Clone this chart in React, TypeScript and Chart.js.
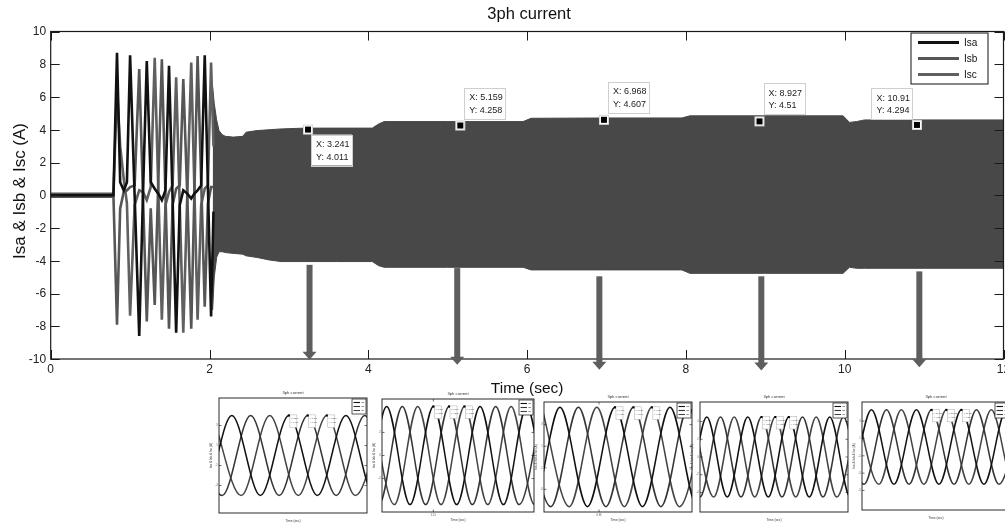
import React, { useEffect, useRef } from "react";
import { Chart, registerables } from "chart.js";

Chart.register(...registerables);

const FONT = '"Liberation Sans", Arial, Helvetica, sans-serif';

// ---------- main chart data ----------
const SERIES = ["Isa", "Isb", "Isc"];
const X_TICKS = [0, 2, 4, 6, 8, 10, 12];
const Y_TICKS = [-10, -8, -6, -4, -2, 0, 2, 4, 6, 8, 10];

// start-up transient (time in s)
const TRANS_T = [0, 0.79, 0.835, 0.875, 0.92, 0.96, 1.0, 1.057, 1.115, 1.162, 1.21, 1.26, 1.31, 1.355, 1.4, 1.445, 1.49, 1.535, 1.58, 1.625, 1.67, 1.72, 1.77, 1.81, 1.85, 1.895, 1.94, 1.98, 2.02, 2.05];
const TRANS_A = [0, 0, 8.7, 0.8, 0.3, 0.8, 8.55, 0, -8.6, 0, 8.2, 0.8, 0.4, 0.1, -0.3, 0.3, 7.9, -0.2, -8.4, -0.6, 0.3, 0.1, -0.2, 0.1, 0.3, 0.6, 8.55, 0.5, -7.4, -1.0];
const TRANS_B = [0, 0, -7.9, -0.8, 0.2, 0.3, 0.5, 0.6, 7.7, 0, -7.7, -0.8, -6.7, 0.8, 8.3, 0.1, -8.15, -0.6, 0.4, 0.6, 7.1, 0, -8.15, 0.2, 8.5, 0.9, -6.8, -0.5, 0.5, 0.5];
const TRANS_C = [0, 0, 6.5, 3.0, 1.0, -0.5, -7.35, -0.6, 0.3, 0.2, -0.3, 0.5, 8.4, 0.4, -7.6, -0.6, 0.2, 0.6, 7.2, -0.6, -8.4, 0, 8.1, 0.3, -7.6, -0.6, 0.4, 0.6, 8.1, 3.0];

// steady-state envelope of the three dense 50 Hz currents
const ENV_T = [2.04, 2.06, 2.09, 2.12, 2.16, 2.2, 2.3, 2.42, 2.46, 2.6, 2.75, 2.9, 3.2, 3.6, 4.05, 4.13, 4.2, 4.4, 5.0, 5.95, 6.05, 7.0, 7.95, 8.05, 9.0, 9.98, 10.06, 10.15, 10.25, 11.0, 12.0];
const ENV_UPPER = [6.6, 5.6, 4.6, 3.95, 3.7, 3.6, 3.55, 3.6, 3.85, 3.95, 4.0, 4.05, 4.1, 4.1, 4.1, 4.35, 4.5, 4.5, 4.5, 4.5, 4.7, 4.72, 4.72, 4.85, 4.85, 4.85, 4.45, 4.5, 4.6, 4.6, 4.6];
const ENV_LOWER = [-7.0, -5.0, -3.8, -3.45, -3.45, -3.5, -3.55, -3.6, -3.7, -3.8, -3.95, -4.05, -4.05, -4.05, -4.05, -4.3, -4.4, -4.4, -4.4, -4.4, -4.56, -4.56, -4.56, -4.77, -4.77, -4.77, -4.4, -4.46, -4.46, -4.46, -4.46];

// data tips
const TIP_X = [3.241, 5.159, 6.968, 8.927, 10.91];
const TIP_Y = [4.011, 4.258, 4.607, 4.51, 4.294];

// arrows (time, start value, tip value)
const ARROW_X = [3.26, 5.12, 6.91, 8.95, 10.94];
const ARROW_TOP = [-4.25, -4.45, -4.95, -4.95, -4.65];
const ARROW_TIP = [-10.05, -10.35, -10.65, -10.7, -10.5];

// ---------- inset (zoomed) data ----------
const INSET1_PEAKS = [3.1995, 3.2061, 3.2128, 3.2195, 3.2261, 3.2328, 3.2395, 3.2461, 3.2528, 3.2595, 3.2661, 3.2728, 3.2795, 3.2861];
const INSET1_TROUGHS = [3.2028, 3.2095, 3.2161, 3.2228, 3.2295, 3.2361, 3.2428, 3.2495, 3.2561, 3.2628, 3.2695, 3.2761, 3.2828];
const INSET2_PEAKS = [5.11, 5.1167, 5.1233, 5.13, 5.1367, 5.1433, 5.15, 5.1567, 5.1633, 5.17, 5.1767, 5.1833, 5.19, 5.1967, 5.2033, 5.21];
const INSET2_TROUGHS = [5.1133, 5.12, 5.1267, 5.1333, 5.14, 5.1467, 5.1533, 5.16, 5.1667, 5.1733, 5.18, 5.1867, 5.1933, 5.2, 5.2067];
const INSET3_PEAKS = [6.9258, 6.9325, 6.9392, 6.9458, 6.9525, 6.9592, 6.9658, 6.9725, 6.9792, 6.9858, 6.9925, 6.9992, 7.0058, 7.0125];
const INSET3_TROUGHS = [6.9292, 6.9358, 6.9425, 6.9492, 6.9558, 6.9625, 6.9692, 6.9758, 6.9825, 6.9892, 6.9958, 7.0025, 7.0092];
const INSET4_PEAKS = [8.8733, 8.88, 8.8867, 8.8933, 8.9, 8.9067, 8.9133, 8.92, 8.9267, 8.9333, 8.94, 8.9467, 8.9533, 8.96, 8.9667, 8.9733, 8.98];
const INSET4_TROUGHS = [8.8767, 8.8833, 8.89, 8.8967, 8.9033, 8.91, 8.9167, 8.9233, 8.93, 8.9367, 8.9433, 8.95, 8.9567, 8.9633, 8.97, 8.9767];
const INSET5_PEAKS = [10.8642, 10.8709, 10.8775, 10.8842, 10.8909, 10.8975, 10.9042, 10.9109, 10.9175, 10.9242, 10.9309, 10.9375, 10.9442, 10.9509, 10.9575, 10.9642];
const INSET5_TROUGHS = [10.8675, 10.8742, 10.8809, 10.8875, 10.8942, 10.9009, 10.9075, 10.9142, 10.9209, 10.9275, 10.9342, 10.9409, 10.9475, 10.9542, 10.9609];

const INSET_AMPS = [4.011, 4.258, 4.607, 4.51, 4.294];
const INSET_X_MIN = [3.215, 5.128, 6.94, 8.89, 10.88];
const INSET_X_MAX = [3.2669, 5.1931, 6.9938, 8.9622, 10.9458];
const INSET_Y_MIN = [-5.75, -4.9, -5.1, -6.2, -7.25];
const INSET_Y_MAX = [5.75, 4.9, 5.1, 6.2, 5.2];
const INSET1_TIPS = [3.2395, 3.2461, 3.2528];
const INSET2_TIPS = [5.15, 5.1567, 5.1633];
const INSET3_TIPS = [6.9658, 6.9725, 6.9792];
const INSET4_TIPS = [8.92, 8.9267, 8.9333];
const INSET5_TIPS = [10.9109, 10.9175, 10.9242];

const INSET_PEAKS = [INSET1_PEAKS, INSET2_PEAKS, INSET3_PEAKS, INSET4_PEAKS, INSET5_PEAKS];
const INSET_TROUGHS = [INSET1_TROUGHS, INSET2_TROUGHS, INSET3_TROUGHS, INSET4_TROUGHS, INSET5_TROUGHS];
const INSET_TIPS = [INSET1_TIPS, INSET2_TIPS, INSET3_TIPS, INSET4_TIPS, INSET5_TIPS];

// ---------- layout / style ----------
const W = 1005;
const H = 523;
const MAIN_PAD = { left: 50.7, right: 1.5, top: 31.5, bottom: 164 };
const SERIES_COLORS = ["#111111", "#565656", "#606060"];
const INSET_COLORS = ["#111111", "#353535", "#444444"];
const BAND_COLOR = "#484848";
const ARROW_COLOR = "#5e5e5e";
const TIP_SIDE = ["br", "tr", "tr", "tr", "tl"];
const INSET_BOXES = [
  { l: 219, t: 398, w: 148, h: 115 },
  { l: 382, t: 399, w: 152, h: 113 },
  { l: 544, t: 402, w: 148, h: 110 },
  { l: 700, t: 402, w: 148, h: 110 },
  { l: 862, t: 402, w: 148, h: 108 },
];
const INSET_PAD = { l: 16, r: 3, t: 10, b: 14 };

type Pt = { x: number; y: number };
const toPts = (xs: number[], ys: number[]): Pt[] => xs.map((x, i) => ({ x, y: ys[i] }));

// split sorted extremes into the three phases (peaks cycle a,b,c; each trough sits between two peaks of its phase)
function splitPhases(peaks: number[], troughs: number[], amp: number): Pt[][] {
  const out: Pt[][] = [];
  for (let p = 0; p < 3; p++) {
    const pk = peaks.filter((_, i) => i % 3 === p);
    const pts: Pt[] = [];
    for (let i = 0; i < pk.length; i++) {
      pts.push({ x: pk[i], y: amp });
      if (i < pk.length - 1) {
        const mid = (pk[i] + pk[i + 1]) / 2;
        let best = troughs[0];
        for (const t of troughs) if (Math.abs(t - mid) < Math.abs(best - mid)) best = t;
        pts.push({ x: best, y: -amp });
      }
    }
    out.push(pts);
  }
  return out;
}

const mainDecor = {
  id: "mainDecor",
  afterDraw(chart: any) {
    const { ctx, chartArea: ca, scales } = chart;
    const px = (v: number) => scales.x.getPixelForValue(v);
    const py = (v: number) => scales.y.getPixelForValue(v);
    const cx = (ca.left + ca.right) / 2;
    ctx.save();

    // axes box
    ctx.strokeStyle = "#1a1a1a";
    ctx.lineWidth = 1.2;
    ctx.strokeRect(ca.left, ca.top, ca.right - ca.left, ca.bottom - ca.top);
    ctx.lineWidth = 1;
    ctx.beginPath();
    X_TICKS.forEach((v) => {
      const x = Math.round(px(v)) + 0.5;
      ctx.moveTo(x, ca.bottom);
      ctx.lineTo(x, ca.bottom - 9);
      ctx.moveTo(x, ca.top);
      ctx.lineTo(x, ca.top + 9);
    });
    Y_TICKS.forEach((v) => {
      const y = Math.round(py(v)) + 0.5;
      ctx.moveTo(ca.left, y);
      ctx.lineTo(ca.left + 9, y);
      ctx.moveTo(ca.right, y);
      ctx.lineTo(ca.right - 9, y);
    });
    ctx.stroke();

    // arrows
    ctx.fillStyle = ARROW_COLOR;
    ARROW_X.forEach((ax, i) => {
      const x = px(ax);
      const y0 = py(ARROW_TOP[i]);
      const y1 = py(ARROW_TIP[i]);
      const headL = 8, headW = 14, shaftW = 6;
      ctx.fillRect(x - shaftW / 2, y0, shaftW, y1 - headL - y0 + 0.5);
      ctx.beginPath();
      ctx.moveTo(x - headW / 2, y1 - headL);
      ctx.lineTo(x + headW / 2, y1 - headL);
      ctx.lineTo(x, y1);
      ctx.closePath();
      ctx.fill();
    });

    // tick labels
    ctx.fillStyle = "#222";
    ctx.font = `12px ${FONT}`;
    ctx.textAlign = "center";
    ctx.textBaseline = "middle";
    X_TICKS.forEach((v) => ctx.fillText(String(v), px(v), ca.bottom + 10.5));
    ctx.textAlign = "right";
    Y_TICKS.forEach((v) => ctx.fillText(String(v), ca.left - 4.5, py(v) + 0.5));

    // titles
    ctx.fillStyle = "#111";
    ctx.textAlign = "center";
    ctx.textBaseline = "alphabetic";
    ctx.font = `16.5px ${FONT}`;
    ctx.fillText("3ph current", cx + 2, 19);
    ctx.font = `15.5px ${FONT}`;
    ctx.fillText("Time (sec)", cx, 392.5);
    ctx.save();
    ctx.translate(20.5, 191);
    ctx.rotate(-Math.PI / 2);
    ctx.font = `17px ${FONT}`;
    ctx.textBaseline = "middle";
    ctx.fillText("Isa & Isb & Isc (A)", 0, 0);
    ctx.restore();

    // legend
    const lw = 77, lh = 51;
    const lx = ca.right - 93, ly = ca.top + 1;
    ctx.fillStyle = "#fff";
    ctx.fillRect(lx, ly, lw, lh);
    ctx.strokeStyle = "#111";
    ctx.lineWidth = 1;
    ctx.strokeRect(lx + 0.5, ly + 0.5, lw, lh);
    SERIES.forEach((name, i) => {
      const yy = ly + 10 + i * 16;
      ctx.strokeStyle = SERIES_COLORS[i];
      ctx.lineWidth = 3;
      ctx.beginPath();
      ctx.moveTo(lx + 7.5, yy);
      ctx.lineTo(lx + 48.5, yy);
      ctx.stroke();
      ctx.fillStyle = "#111";
      ctx.font = `10px ${FONT}`;
      ctx.textAlign = "left";
      ctx.textBaseline = "middle";
      ctx.fillText(name, lx + 53.5, yy + 0.5);
    });

    // data tips
    TIP_X.forEach((tx, i) => {
      const mx = px(tx), my = py(TIP_Y[i]);
      const bw = 41, bh = 31;
      let bx = mx + 4, by = my - 7 - bh;
      if (TIP_SIDE[i] === "br") { bx = mx + 3; by = my + 5; }
      if (TIP_SIDE[i] === "tl") { bx = mx - 4.5 - bw; by = my - 5.5 - bh; }
      ctx.fillStyle = "#fff";
      ctx.fillRect(bx, by, bw, bh);
      ctx.strokeStyle = "#cfcfcf";
      ctx.lineWidth = 1;
      ctx.strokeRect(Math.round(bx) + 0.5, Math.round(by) + 0.5, bw, bh);
      ctx.fillStyle = "#222";
      ctx.font = `9px ${FONT}`;
      ctx.textAlign = "left";
      ctx.textBaseline = "middle";
      ctx.fillText(`X: ${tx}`, bx + 5, by + 10);
      ctx.fillText(`Y: ${TIP_Y[i]}`, bx + 5, by + 22.5);
      ctx.fillStyle = "#fff";
      ctx.fillRect(mx - 4.5, my - 4.5, 9, 9);
      ctx.strokeStyle = "#d8d8d8";
      ctx.strokeRect(mx - 4.5, my - 4.5, 9, 9);
      ctx.fillStyle = "#000";
      ctx.fillRect(mx - 3, my - 3, 6, 6);
    });

    ctx.restore();
  },
};

function makeInsetDecor(idx: number) {
  return {
    id: "insetDecor" + idx,
    afterDraw(chart: any) {
      const { ctx, chartArea: ca, scales } = chart;
      const sx = scales.x, sy = scales.y;
      const cx = (ca.left + ca.right) / 2;
      const cy = (ca.top + ca.bottom) / 2;
      ctx.save();
      ctx.strokeStyle = "#151515";
      ctx.lineWidth = 0.9;
      ctx.strokeRect(ca.left, ca.top, ca.right - ca.left, ca.bottom - ca.top);

      ctx.lineWidth = 0.6;
      ctx.beginPath();
      const xt = (sx.ticks || []).filter((t: any) => t.value > sx.min + 1e-9 && t.value < sx.max - 1e-9);
      const yt = (sy.ticks || []).filter((t: any) => t.value > sy.min + 1e-9 && t.value < sy.max - 1e-9);
      xt.forEach((t: any) => {
        const x = sx.getPixelForValue(t.value);
        ctx.moveTo(x, ca.bottom); ctx.lineTo(x, ca.bottom - 2.5);
        ctx.moveTo(x, ca.top); ctx.lineTo(x, ca.top + 2.5);
      });
      yt.forEach((t: any) => {
        const y = sy.getPixelForValue(t.value);
        ctx.moveTo(ca.left, y); ctx.lineTo(ca.left + 2.5, y);
        ctx.moveTo(ca.right, y); ctx.lineTo(ca.right - 2.5, y);
      });
      ctx.stroke();

      ctx.fillStyle = "#555";
      ctx.font = `2.6px ${FONT}`;
      ctx.textAlign = "center";
      ctx.textBaseline = "middle";
      xt.forEach((t: any) => ctx.fillText(t.label, sx.getPixelForValue(t.value), ca.bottom + 3.5));
      ctx.textAlign = "right";
      yt.forEach((t: any) => ctx.fillText(t.label, ca.left - 1.2, sy.getPixelForValue(t.value)));

      ctx.fillStyle = "#333";
      ctx.textAlign = "center";
      ctx.font = `4.2px ${FONT}`;
      ctx.fillText("3ph current", cx, ca.top - 5);
      ctx.font = `3.2px ${FONT}`;
      ctx.fillText("Time (sec)", cx, ca.bottom + 8.5);
      ctx.save();
      ctx.translate(ca.left - 7.5, cy);
      ctx.rotate(-Math.PI / 2);
      ctx.fillText("Isa & Isb & Isc (A)", 0, 0);
      ctx.restore();

      // legend
      const lw = 14, lh = 15;
      const lx = ca.right - lw - 1, ly = ca.top + 1;
      ctx.fillStyle = "#fff";
      ctx.fillRect(lx, ly, lw, lh);
      ctx.strokeStyle = "#111";
      ctx.lineWidth = 0.7;
      ctx.strokeRect(lx, ly, lw, lh);
      SERIES.forEach((name, i) => {
        const yy = ly + 3.5 + i * 4;
        ctx.strokeStyle = INSET_COLORS[i];
        ctx.lineWidth = 1.1;
        ctx.beginPath();
        ctx.moveTo(lx + 1.5, yy);
        ctx.lineTo(lx + 8, yy);
        ctx.stroke();
        ctx.fillStyle = "#222";
        ctx.font = `2.4px ${FONT}`;
        ctx.textAlign = "left";
        ctx.fillText(name, lx + 9, yy);
      });

      // data tips
      const amp = INSET_AMPS[idx];
      INSET_TIPS[idx].forEach((tx) => {
        const mx = sx.getPixelForValue(tx), my = sy.getPixelForValue(amp);
        const bw = 7, bh = 12.5;
        const bx = mx + 1, by = my - 0.5;
        ctx.fillStyle = "#fff";
        ctx.fillRect(bx, by, bw, bh);
        ctx.strokeStyle = "#aaa";
        ctx.lineWidth = 0.5;
        ctx.strokeRect(bx, by, bw, bh);
        ctx.fillStyle = "#444";
        ctx.font = `2.1px ${FONT}`;
        ctx.textAlign = "left";
        ctx.textBaseline = "middle";
        ctx.fillText(`X: ${tx.toFixed(3)}`, bx + 0.8, by + 3.8);
        ctx.fillText(`Y: ${amp.toFixed(3)}`, bx + 0.8, by + 8);
        ctx.fillStyle = "#000";
        ctx.fillRect(mx - 1, my - 1, 2, 2);
      });
      ctx.restore();
    },
  };
}

function MainChart() {
  const ref = useRef<HTMLCanvasElement>(null);
  useEffect(() => {
    const trans = [TRANS_A, TRANS_B, TRANS_C];
    const chart = new Chart(ref.current as HTMLCanvasElement, {
      type: "line",
      data: {
        datasets: [
          ...SERIES.map((name, i) => ({
            label: name,
            data: toPts(TRANS_T, trans[i]),
            borderColor: SERIES_COLORS[i],
            borderWidth: i === 0 ? 2.6 : 2.6,
            pointRadius: 0,
            tension: 0,
            fill: false,
            segment: {
              // the three overlapping currents at rest form a wider band
              borderWidth: (c: any) => (i === 1 && c.p0.parsed.y === 0 && c.p1.parsed.y === 0 ? 5.5 : undefined),
            },
          })),
          {
            label: "envelope+",
            data: toPts(ENV_T, ENV_UPPER),
            borderColor: BAND_COLOR,
            borderWidth: 1,
            pointRadius: 0,
            fill: false,
          },
          {
            label: "envelope-",
            data: toPts(ENV_T, ENV_LOWER),
            borderColor: BAND_COLOR,
            backgroundColor: BAND_COLOR,
            borderWidth: 1,
            pointRadius: 0,
            fill: "-1",
          },
        ] as any,
      },
      options: {
        animation: false,
        responsive: false,
        devicePixelRatio: 1,
        events: [],
        layout: { padding: MAIN_PAD },
        scales: {
          x: { type: "linear", display: false, min: 0, max: 12 },
          y: { type: "linear", display: false, min: -10, max: 10 },
        },
        plugins: { legend: { display: false }, tooltip: { enabled: false }, title: { display: false } },
      },
      plugins: [mainDecor],
    });
    return () => chart.destroy();
  }, []);
  return <canvas ref={ref} width={W} height={H} style={{ position: "absolute", left: 0, top: 0, width: W, height: H }} />;
}

function InsetChart({ idx }: { idx: number }) {
  const ref = useRef<HTMLCanvasElement>(null);
  const box = INSET_BOXES[idx];
  const cw = box.w + INSET_PAD.l + INSET_PAD.r;
  const chh = box.h + INSET_PAD.t + INSET_PAD.b;
  useEffect(() => {
    const phases = splitPhases(INSET_PEAKS[idx], INSET_TROUGHS[idx], INSET_AMPS[idx]);
    const chart = new Chart(ref.current as HTMLCanvasElement, {
      type: "line",
      data: {
        datasets: phases.map((pts, k) => ({
          label: SERIES[k],
          data: pts,
          borderColor: INSET_COLORS[k],
          borderWidth: 1.5,
          pointRadius: 0,
          cubicInterpolationMode: "monotone",
          fill: false,
        })) as any,
      },
      options: {
        animation: false,
        responsive: false,
        devicePixelRatio: 1,
        events: [],
        layout: { padding: { left: INSET_PAD.l, right: INSET_PAD.r, top: INSET_PAD.t, bottom: INSET_PAD.b } },
        scales: {
          x: { type: "linear", display: false, min: INSET_X_MIN[idx], max: INSET_X_MAX[idx], ticks: { maxTicksLimit: 9 } },
          y: { type: "linear", display: false, min: INSET_Y_MIN[idx], max: INSET_Y_MAX[idx], ticks: { stepSize: 1 } },
        },
        plugins: { legend: { display: false }, tooltip: { enabled: false }, title: { display: false } },
      },
      plugins: [makeInsetDecor(idx)],
    });
    return () => chart.destroy();
  }, [idx]);
  return (
    <canvas
      ref={ref}
      width={cw}
      height={chh}
      style={{ position: "absolute", left: box.l - INSET_PAD.l, top: box.t - INSET_PAD.t, width: cw, height: chh }}
    />
  );
}

export default function App() {
  return (
    <div style={{ position: "fixed", left: 0, top: 0, width: W, height: H, overflow: "hidden", background: "#fff" }}>
      <MainChart />
      {INSET_BOXES.map((_, i) => (
        <InsetChart key={i} idx={i} />
      ))}
    </div>
  );
}
